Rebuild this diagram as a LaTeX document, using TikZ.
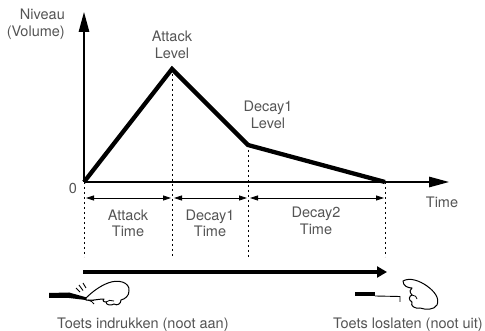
\documentclass[tikz,border=0pt]{standalone}
\usepackage{fontspec}
\setmainfont{TeX Gyre Heros}
\usetikzlibrary{arrows.meta}
\definecolor{labelgray}{gray}{0.33}

\begin{document}
\begin{tikzpicture}[x=1pt,y=-1pt,
  lbl/.style={text=labelgray,font=\fontsize{14.5}{17}\selectfont,align=center,inner sep=0pt},
  axis/.style={line width=1.4pt,-{Triangle[length=20pt,width=10.5pt]}},
  env/.style={line width=4.3pt,line join=miter},
  guide/.style={line width=0.9pt,dash pattern=on 2pt off 3pt},
  span/.style={line width=0.8pt,{Triangle[length=8pt,width=5pt]}-{Triangle[length=8pt,width=5pt]}},
  hand/.style={fill=white,draw=black,line width=1pt,line join=round}]
\useasboundingbox (0,0) rectangle (485,331);

\coordinate (o) at (84,182);
\coordinate (ytop) at (84,12);
\coordinate (xend) at (449,182);
\coordinate (peak) at (172,69);
\coordinate (dlev) at (248,145);
\coordinate (stop) at (385,182);

\draw[axis] (o) -- (ytop);
\draw[axis] (o) -- (xend);
\draw[env] (o) -- (peak) -- (dlev) -- (stop);

\coordinate (g0) at (84,257);
\coordinate (g1) at (172,257);
\coordinate (g2) at (248,257);
\coordinate (g3) at (385,257);
\draw[guide] (o) -- (g0);
\draw[guide] (peak) -- (g1);
\draw[guide] (dlev) -- (g2);
\draw[guide] (stop) -- (g3);

\coordinate (s0) at (84,198);
\coordinate (s1) at (172,198);
\coordinate (s2) at (248,198);
\coordinate (s3) at (385,198);
\draw[span,shorten <=2pt,shorten >=1pt] (s0) -- (s1);
\draw[span,shorten <=2pt,shorten >=1pt] (s1) -- (s2);
\draw[span,shorten <=2pt,shorten >=1pt] (s2) -- (s3);

\node[lbl,align=right,anchor=base east] (niveau) at (65,37) {Niveau\\(Volume)};
\node[lbl,anchor=base] (attlev) at (172,59) {Attack\\Level};
\node[lbl,anchor=base] (declev) at (268,129) {Decay1\\Level};
\node[lbl] (zero) at (73,188) {0};
\node[lbl] (time) at (442,202) {Time};
\node[lbl,anchor=base] (atttime) at (128,237) {Attack\\Time};
\node[lbl,anchor=base] (d1time) at (210,237) {Decay1\\Time};
\node[lbl,anchor=base] (d2time) at (316,235) {Decay2\\Time};

\coordinate (k0) at (83,272);
\coordinate (k1) at (387,272);
\draw[line width=4pt,-{Triangle[length=10pt,width=11pt]}] (k0) -- (k1);

\fill (49,293) -- (69,292.5) -- (94,299.5) -- (94,301) -- (69,298) -- (49,298) -- cycle;
\draw[line width=0.9pt] (76,288) -- (80,292) (79,285) -- (83,290.5) (83,283) -- (86,288);
\draw[hand] (86,298) .. controls (92,292) and (100,286) .. (108,283)
  .. controls (118,279) and (130,282) .. (129,291)
  .. controls (129,296) and (125,299) .. (121,300)
  .. controls (121,304) and (117,306) .. (114,304)
  .. controls (111,306) and (106,305) .. (106,302)
  .. controls (103,302) and (102,300) .. (104,299)
  .. controls (98,299) and (92,301) .. (86,300) -- cycle;
\draw[line width=0.8pt] (88,300) .. controls (91,301) and (93,302) .. (94,304);
\draw[line width=0.8pt] (106,302) .. controls (108,300) and (111,300) .. (114,301);

\fill (355,292) rectangle (375,296);
\draw[line width=0.9pt] (375,296) -- (400,296.5) -- (400,302);
\draw[hand] (403,281) .. controls (410,277) and (420,281) .. (427,286)
  .. controls (434,291) and (440,298) .. (437,305)
  .. controls (434,310) and (426,310) .. (420,308)
  .. controls (415,309) and (410,306) .. (412,302)
  .. controls (408,300) and (409,296) .. (412,295)
  .. controls (409,292) and (410,289) .. (412,288)
  .. controls (408,288) and (403,286) .. (403,281) -- cycle;
\draw[line width=0.8pt] (412,295) .. controls (415,295) and (417,297) .. (417,299);

\node[lbl,anchor=base west] (press) at (57,329) {Toets indrukken (noot aan)};
\node[lbl,anchor=base east] (release) at (483,329) {Toets loslaten (noot uit)};
\end{tikzpicture}
\end{document}
